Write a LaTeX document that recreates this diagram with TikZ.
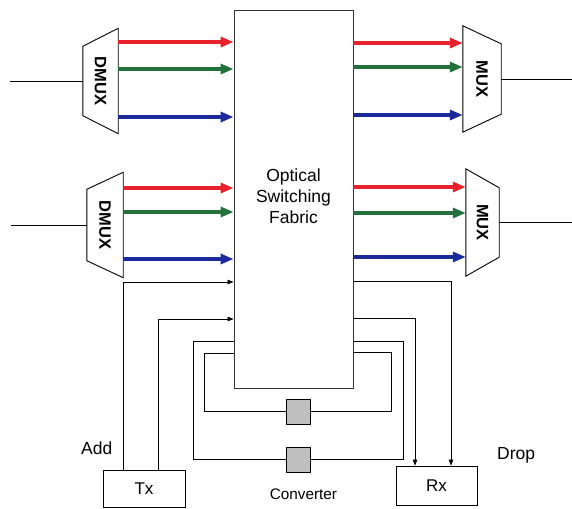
\documentclass[tikz,border=0pt]{standalone}
\usepackage{fontspec}
\setmainfont{Liberation Sans}
\usepackage{tikz}
\usetikzlibrary{arrows.meta, positioning, calc}
\definecolor{wdmred}{RGB}{232,34,44}
\definecolor{wdmgreen}{RGB}{34,112,58}
\definecolor{wdmblue}{RGB}{26,42,152}

\begin{document}
\begin{tikzpicture}[x=1pt, y=-1pt,
  fabricbox/.style={draw=black!80, line width=0.8pt, minimum width=119pt, minimum height=378pt, inner sep=0pt},
  fabrictext/.style={align=center, font=\fontsize{17.5}{21}\selectfont},
  muxframe/.style={minimum width=#1, minimum height=105pt, inner sep=0pt},
  muxlabel/.style={rotate=-90, font=\fontsize{16.5}{16.5}\selectfont\bfseries},
  wdm/.style={draw=#1, line width=3.1pt, -{Triangle[length=13pt,width=10pt]}},
  fibre/.style={line width=0.9pt},
  sig/.style={line width=0.7pt},
  sigarrow/.style={sig, -{Triangle[length=6pt,width=4.5pt]}},
  iobox/.style={draw, line width=0.8pt, minimum width=82pt, minimum height=37pt, inner sep=0pt, font=\fontsize{17}{17}\selectfont},
  convbox/.style={draw, fill=black!25, line width=0.8pt, minimum width=24pt, minimum height=25pt, inner sep=0pt},
  tag/.style={font=\fontsize{17.5}{17.5}\selectfont, inner sep=0pt}
]
  \useasboundingbox (0,0) rectangle (572,508);

  % Switching fabric
  \node[fabricbox] (fabric) at (293.5,199) {};
  \node[fabrictext] (fabriclabel) at (293.5,196.5) {Optical\\Switching\\Fabric};

  % Demultiplexers on the input side
  \node[muxframe=35pt] (dmuxA) at (100.5,81) {};
  \draw[fibre] (dmuxA.north east) -- (dmuxA.south east) -- ([yshift=18pt]dmuxA.south west) -- ([yshift=-18pt]dmuxA.north west) -- cycle;
  \node[muxlabel] at (dmuxA.center) {DMUX};
  \node[muxframe=36pt] (dmuxB) at (105,225) {};
  \draw[fibre] (dmuxB.north east) -- (dmuxB.south east) -- ([yshift=17pt]dmuxB.south west) -- ([yshift=-17pt]dmuxB.north west) -- cycle;
  \node[muxlabel] at (dmuxB.center) {DMUX};
  \coordinate (inA) at (10,81);
  \coordinate (inB) at (11,225);
  \draw[fibre] (inA) -- (dmuxA.west);
  \draw[fibre] (inB) -- (dmuxB.west);

  % Multiplexers on the output side
  \node[muxframe=38pt, minimum height=106pt] (muxA) at (482,79) {};
  \draw[fibre] (muxA.north west) -- (muxA.south west) -- ([yshift=18pt]muxA.south east) -- ([yshift=-18pt]muxA.north east) -- cycle;
  \node[muxlabel] at (muxA.center) {MUX};
  \node[muxframe=33pt, minimum height=107pt] (muxB) at (482.5,222.5) {};
  \draw[fibre] (muxB.north west) -- (muxB.south west) -- ([yshift=19pt]muxB.south east) -- ([yshift=-19pt]muxB.north east) -- cycle;
  \node[muxlabel] at (muxB.center) {MUX};
  \coordinate (outA) at (572,79);
  \coordinate (outB) at (572,222.5);
  \draw[fibre] (muxA.east) -- (outA);
  \draw[fibre] (muxB.east) -- (outB);

  % Wavelength channels
  \foreach \y/\col in {42/wdmred, 69/wdmgreen, 117/wdmblue}
    \draw[wdm=\col] (dmuxA.east |- 0,\y) -- (fabric.west |- 0,\y);
  \foreach \y/\col in {188/wdmred, 212/wdmgreen, 259/wdmblue}
    \draw[wdm=\col] (dmuxB.east |- 0,\y) -- (fabric.west |- 0,\y);
  \foreach \y/\col in {43/wdmred, 67/wdmgreen, 115/wdmblue}
    \draw[wdm=\col] (fabric.east |- 0,\y) -- (muxA.west |- 0,\y);
  \foreach \y/\col in {187/wdmred, 213/wdmgreen, 257/wdmblue}
    \draw[wdm=\col] (fabric.east |- 0,\y) -- (muxB.west |- 0,\y);

  % Add / drop ports
  \node[iobox] (tx) at (144,489) {Tx};
  \node[iobox, minimum width=81pt, minimum height=39pt] (rx) at (436.5,485.5) {Rx};
  \draw[sigarrow] (tx.north -| 123,0) |- (fabric.west |- 0,282);
  \draw[sigarrow] (tx.north -| 158,0) |- (fabric.west |- 0,319);
  \draw[sigarrow] (fabric.east |- 0,281) -| (rx.north -| 451,0);
  \draw[sigarrow] (fabric.east |- 0,318) -| (rx.north -| 415,0);

  % Wavelength converter loops
  \node[convbox] (convA) at (298,411.5) {};
  \node[convbox] (convB) at (298,459.5) {};
  \draw[sig] (fabric.west |- 0,353) -| (204,411.5) -- (convA.west);
  \draw[sig] (convA.east) -| (391,352) -- (fabric.east |- 0,352);
  \draw[sig] (fabric.west |- 0,341) -| (193,459.5) -- (convB.west);
  \draw[sig] (convB.east) -| (403,341) -- (fabric.east |- 0,341);

  % Labels
  \node[tag, anchor=base west] (add) at (81,454) {Add};
  \node[tag, anchor=base west] (drop) at (497,459) {Drop};
  \node[tag, anchor=base, font=\fontsize{15.3}{15}\selectfont] (convlabel) at (303.5,499) {Converter};
\end{tikzpicture}
\end{document}
